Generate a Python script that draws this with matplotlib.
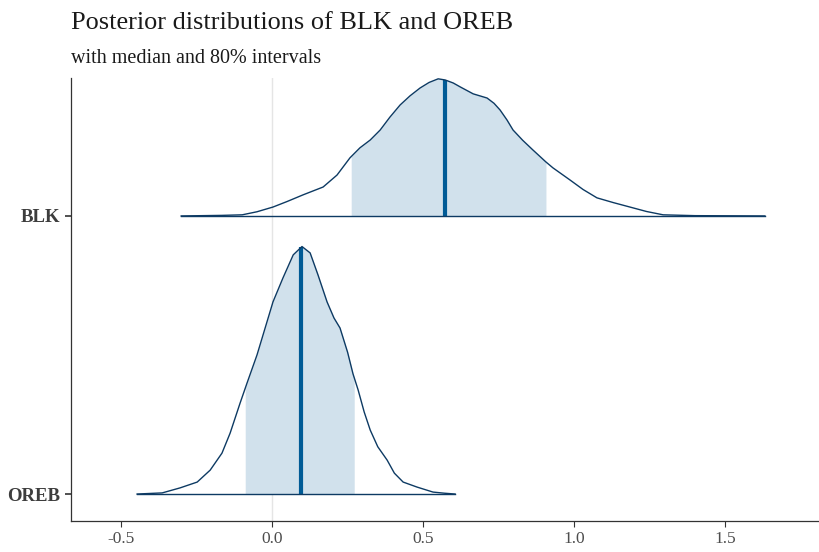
import numpy as np
import matplotlib
matplotlib.use('Agg')
import matplotlib.pyplot as plt
from matplotlib import rcParams
rcParams['font.family'] = 'Liberation Serif'

# parameters, top to bottom
params = ['BLK', 'OREB']

# density outlines (x, scaled height)
blk_x = [-0.301, -0.166, -0.099, -0.05, 0.003, 0.05, 0.103, 0.169, 0.215, 0.258,
         0.291, 0.325, 0.358, 0.39, 0.424, 0.457, 0.490, 0.520, 0.550, 0.573,
         0.600, 0.623, 0.666, 0.712, 0.735, 0.755, 0.778, 0.798, 0.830, 0.864,
         0.907, 0.930, 0.987, 1.03, 1.076, 1.13, 1.185, 1.24, 1.295, 1.401, 1.632]
blk_h = [0.0, 0.002, 0.004, 0.015, 0.032, 0.052, 0.076, 0.104, 0.147, 0.209,
         0.245, 0.273, 0.309, 0.355, 0.399, 0.432, 0.460, 0.480, 0.493, 0.489,
         0.478, 0.464, 0.439, 0.424, 0.405, 0.381, 0.345, 0.309, 0.272, 0.237,
         0.194, 0.173, 0.129, 0.095, 0.065, 0.048, 0.032, 0.016, 0.004, 0.001, 0.0]

oreb_x = [-0.447, -0.364, -0.305, -0.248, -0.205, -0.166, -0.139, -0.106, -0.083,
          -0.050, -0.025, 0.003, 0.036, 0.070, 0.099, 0.126, 0.152, 0.182, 0.205,
          0.225, 0.250, 0.268, 0.285, 0.305, 0.325, 0.350, 0.381, 0.405, 0.434,
          0.480, 0.533, 0.570, 0.606]
oreb_h = [0.0, 0.004, 0.022, 0.043, 0.086, 0.147, 0.219, 0.327, 0.399,
          0.500, 0.590, 0.691, 0.777, 0.860, 0.890, 0.867, 0.788, 0.691, 0.633,
          0.597, 0.510, 0.432, 0.374, 0.295, 0.230, 0.170, 0.122, 0.075, 0.043,
          0.025, 0.007, 0.003, 0.0]

# 80% interval and median
lo = [0.262, -0.089]
hi = [0.907, 0.272]
med = [0.573, 0.096]

xs = [np.array(blk_x), np.array(oreb_x)]
hs = [np.array(blk_h), np.array(oreb_h)]
ypos = [2, 1]

fig = plt.figure(figsize=(8.2, 5.52), dpi=100)
ax = fig.add_axes([71/820, 31/552, 747/820, 443/552])

ax.axvline(0, color='#e5e5e5', lw=1, zorder=0)

line_col = '#0d3a63'
fill_col = '#d1e1ec'
med_col = '#005b96'

for i in range(len(params)):
	x, h, y0 = xs[i], hs[i], ypos[i]
	# shaded interval
	inner = x[(x > lo[i]) & (x < hi[i])]
	fx = np.concatenate([[lo[i]], inner, [hi[i]]])
	fh = np.interp(fx, x, h)
	ax.fill_between(fx, y0, y0 + fh, color=fill_col, lw=0, zorder=1)
	# median
	mh = np.interp(med[i], x, h)
	ax.plot([med[i], med[i]], [y0, y0 + mh], color=med_col, lw=3, zorder=3, solid_capstyle='butt')
	# outline and baseline
	ax.plot(x, y0 + h, color=line_col, lw=1.0, zorder=4)
	ax.plot([x[0], x[-1]], [y0, y0], color=line_col, lw=1.0, zorder=4)

ax.set_xlim(-0.666, 1.808)
ax.set_ylim(0.903, 2.496)
ax.set_xticks([-0.5, 0.0, 0.5, 1.0, 1.5])
ax.set_xticklabels(['-0.5', '0.0', '0.5', '1.0', '1.5'])
ax.set_yticks(ypos)
ax.set_yticklabels(params, fontweight='bold')

for s in ['top', 'right']:
	ax.spines[s].set_visible(False)
for s in ['left', 'bottom']:
	ax.spines[s].set_color('#333333')
	ax.spines[s].set_linewidth(0.9)
ax.tick_params(axis='x', colors='#333333', labelcolor='#4d4d4d', labelsize=12.5, length=4, width=0.8)
ax.tick_params(axis='y', colors='#333333', labelcolor='#3d3d3d', labelsize=13.5, length=4, width=1.2)

fig.text(71/820, 1 - 29/552, 'Posterior distributions of BLK and OREB', fontsize=18.9, color='#1a1a1a', va='baseline')
fig.text(71/820, 1 - 63/552, 'with median and 80% intervals', fontsize=14.5, color='#1a1a1a', va='baseline')

fig.savefig('out.png', dpi=100)
